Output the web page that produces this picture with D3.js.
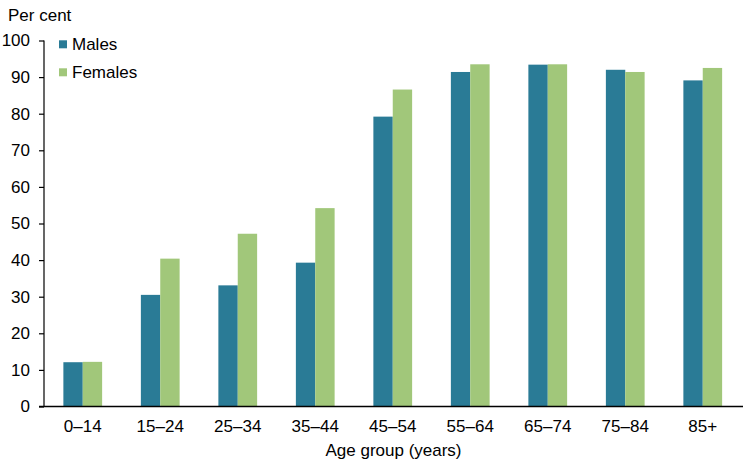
<!DOCTYPE html>
<html>
<head>
<meta charset="utf-8">
<script src="https://cdn.jsdelivr.net/npm/d3@7"></script>
<style>
  body { margin: 0; background: #fff; }
  text { font-family: "Liberation Sans", Arial, sans-serif; fill: #000; }
</style>
</head>
<body>
<script>
const ageGroups = ["0–14", "15–24", "25–34", "35–44", "45–54", "55–64", "65–74", "75–84", "85+"];
const males = [12.1, 30.5, 33.1, 39.3, 79.2, 91.4, 93.4, 92.0, 89.1];
const females = [12.2, 40.4, 47.2, 54.2, 86.6, 93.5, 93.5, 91.4, 92.5];
const yTicks = [0, 10, 20, 30, 40, 50, 60, 70, 80, 90, 100];
const seriesNames = ["Males", "Females"];
const colours = ["#2a7b96", "#a1c77a"];

const w = 744, h = 464;
const plotLeft = 44, plotRight = 741.5, plotTop = 40.5, plotBottom = 406.5;
const fontSize = "17px";

const svg = d3.select("body")
              .append("svg")
              .attr("width", w)
              .attr("height", h)

const x = d3.scaleBand()
            .domain(ageGroups)
            .range([plotLeft, plotRight])
            .paddingInner(0.5)
            .paddingOuter(0.25)

const xs = d3.scaleBand()
             .domain(seriesNames)
             .range([0, x.bandwidth()])

const y = d3.scaleLinear()
            .domain([0, 100])
            .range([plotBottom, plotTop])

const rows = ageGroups.map((g, i) => ({ group: g, values: [males[i], females[i]] }));

svg.append("g")
   .selectAll("g")
   .data(rows)
   .enter()
   .append("g")
   .attr("transform", d => "translate(" + x(d.group) + ",0)")
   .selectAll("rect")
   .data(d => d.values.map((v, j) => ({ name: seriesNames[j], value: v, colour: colours[j] })))
   .enter()
   .append("rect")
   .attr("x", d => xs(d.name))
   .attr("width", xs.bandwidth())
   .attr("y", d => y(d.value))
   .attr("height", d => y(0) - y(d.value))
   .attr("fill", d => d.colour)

const yAxis = d3.axisLeft(y)
                .tickValues(yTicks)
                .tickSize(5)
                .tickPadding(9)

const gy = svg.append("g")
   .attr("transform", "translate(" + plotLeft + ",0)")
   .call(yAxis)
gy.select(".domain").attr("d", "M0," + plotTop + "V" + plotBottom).attr("stroke", "#000").attr("stroke-width", 1.2)
gy.selectAll(".tick line").attr("stroke", "#000").attr("stroke-width", 1.2)
gy.selectAll(".tick text").style("font-size", fontSize).attr("font-family", null)

const xAxis = d3.axisBottom(x).tickSize(0).tickPadding(13)
const gx = svg.append("g")
   .attr("transform", "translate(0," + plotBottom + ")")
   .call(xAxis)
gx.select(".domain").attr("d", "M" + (plotLeft - 5) + ",0H" + 743).attr("stroke", "#000").attr("stroke-width", 1.4)
gx.selectAll(".tick text").style("font-size", fontSize).attr("font-family", null)

svg.append("text")
   .attr("x", 8)
   .attr("y", 20.5)
   .style("font-size", fontSize)
   .text("Per cent")

svg.append("text")
   .attr("x", 393.5)
   .attr("y", 456)
   .attr("text-anchor", "middle")
   .style("font-size", fontSize)
   .text("Age group (years)")

const legend = svg.append("g")
legend.selectAll("rect")
      .data(seriesNames)
      .enter()
      .append("rect")
      .attr("x", 59)
      .attr("y", (d, i) => 40.3 + i * 28)
      .attr("width", 8)
      .attr("height", 8)
      .attr("fill", (d, i) => colours[i])
legend.selectAll("text")
      .data(seriesNames)
      .enter()
      .append("text")
      .attr("x", 72)
      .attr("y", (d, i) => 50 + i * 27.5)
      .style("font-size", fontSize)
      .text(d => d)
</script>
</body>
</html>
